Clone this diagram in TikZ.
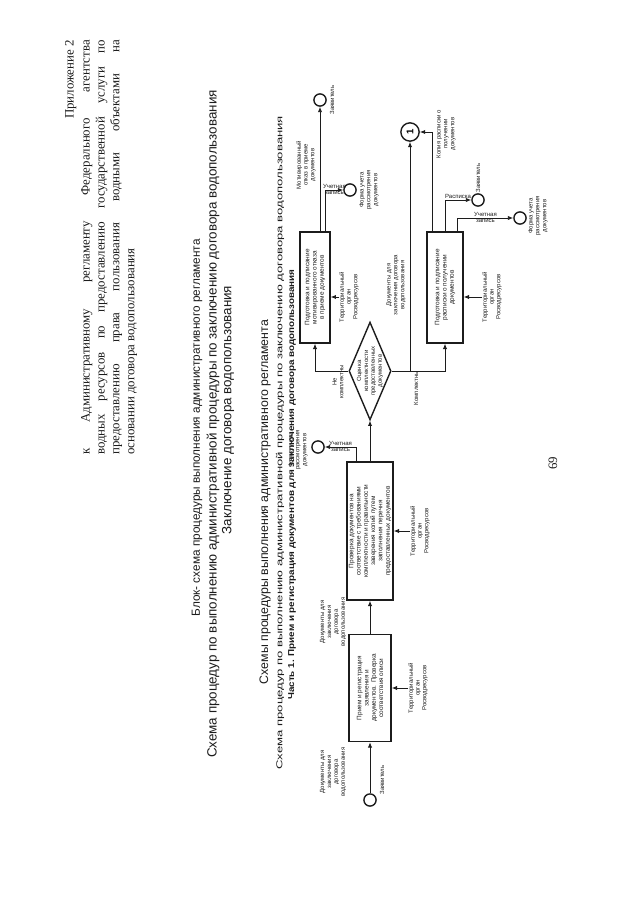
\documentclass[tikz,border=0pt]{standalone}
\usepackage{fontspec}
\setmainfont{Liberation Serif}
\newfontfamily\schemefont{Liberation Sans}
\usetikzlibrary{arrows.meta, positioning, shapes.geometric, calc}
\definecolor{ink}{HTML}{1C1C1C}

\begin{document}
\begin{tikzpicture}[x=0.0328cm, y=-0.0328cm,
  vtext/.style={rotate=90, inner sep=0pt, align=center, text=ink},
  heading/.style={vtext, font=\schemefont\fontsize{12.5}{15}\selectfont},
  subhead/.style={vtext, font=\schemefont\fontsize{8}{9}\selectfont},
  procbox/.style={draw=ink, line width=1.3pt, rotate=90, align=center, inner sep=1pt,
    text=ink, font=\schemefont\fontsize{6}{6.8}\selectfont},
  tag/.style={vtext, font=\schemefont\fontsize{5.6}{6.4}\selectfont},
  flattag/.style={inner sep=0pt, text=ink, font=\schemefont\fontsize{5.6}{6.4}\selectfont},
  endcirc/.style={draw=ink, line width=1.3pt, circle, minimum size=0.4cm, inner sep=0pt},
  flow/.style={draw=ink, line width=0.8pt, -{Latex[length=5pt, width=4pt]}},
]
\fill[white] (0,0) rectangle (640,905);
\useasboundingbox (0,0) rectangle (640,905);

% шапка приложения
\node[vtext, anchor=north east, font=\fontsize{12}{14}\selectfont] (appx) at (65,40) {Приложение 2};
\node[vtext, anchor=north west, text width=13.6cm, align=justify, font=\fontsize{12}{13.9}\selectfont] (regl) at (81,455)
  {к Административному регламенту Федерального агентства\linebreak
   водных ресурсов по предоставлению государственной услуги по\linebreak
   предоставлению права пользования водными объектами на\linebreak
   основании договора водопользования};

% заголовки
\node[heading, font=\schemefont\fontsize{11}{13}\selectfont] (blok) at (197,428) {Блок- схема процедуры выполнения административного регламента};
\node[heading] (sxema) at (213,424) {Схема процедур по выполнению административной процедуры по заключению договора водопользования};
\node[heading] (zakl) at (228,410) {Заключение договора водопользования};
\node[heading, font=\schemefont\fontsize{11.5}{13}\selectfont] (sxemy) at (265,502) {Схемы процедуры выполнения административного регламента};
\node[subhead, anchor=west] (sxemaSmall) at (280,770)
  {\scalebox{1.53}[1]{Схема процедур по выполнению административной процедуры по заключению договора водопользования}};
\node[subhead, anchor=west, font=\schemefont\bfseries\fontsize{8}{9}\selectfont] (chast) at (292,700)
  {\scalebox{1.15}[1]{Часть 1. Прием и регистрация документов для заключения договора водопользования}};

% блоки
\node[procbox, minimum width=3.51cm, minimum height=1.38cm] (priem) at (370,688)
  {Прием и регистрация\\ заявления и\\ документов. Проверка\\ соответствия описи};
\node[procbox, minimum width=4.53cm, minimum height=1.51cm] (proverka) at (370,531)
  {Проверка документов на\\ соответствие с требованиями\\ комплектности и правильности\\ заверения копий путем\\ заполнения перечня\\ предоставленных документов};
\node[diamond, draw=ink, line width=1.3pt, rotate=90, minimum width=3.21cm, minimum height=1.38cm, inner sep=0pt] (ocenka) at (370,371) {};
\node[tag] (ocenkaTxt) at (ocenka) {Оценка\\ комплектности\\ предоставленных\\ документов};
\node[procbox, minimum width=3.64cm, minimum height=0.98cm] (otkaz) at (315,287.5)
  {Подготовка и подписание\\ мотивированного отказа\\ в приеме документов};
\node[procbox, minimum width=3.64cm, minimum height=1.18cm] (raspiska) at (445,287.5)
  {Подготовка и подписание\\ расписки о получении\\ документов};

% концевые кружки
\node[endcirc] (zayavIn) at (370,800) {};
\node[endcirc] (formB) at (318,447) {};
\node[endcirc] (zayavOtk) at (320,100) {};
\node[endcirc] (formC) at (350,190) {};
\node[endcirc] (zayavRasp) at (478,200) {};
\node[endcirc] (formD) at (520,218) {};
\node[endcirc, minimum size=0.6cm, rotate=90, font=\schemefont\bfseries\fontsize{9}{10}\selectfont] (link1) at (410,132) {1};

% подписи
\node[tag] (inDocs) at (333,772) {Документы для\\ заключения\\ договора\\ водопользования};
\node[tag] (zayavInLbl) at (382,780) {Заявитель};
\node[tag] (midDocs) at (333,622) {Документы для\\ заключения\\ договора\\ водопользования};
\node[tag] (terr1) at (418,688) {Территориальный\\ орган\\ Росводресурсов};
\node[tag] (terr2) at (420,531) {Территориальный\\ орган\\ Росводресурсов};
\node[tag] (terr3) at (349,297) {Территориальный\\ орган\\ Росводресурсов};
\node[tag] (terr4) at (492,297) {Территориальный\\ орган\\ Росводресурсов};
\node[tag] (formBLbl) at (298,450) {Форма учета\\ рассмотрения\\ документов};
\node[tag] (formCLbl) at (369,190) {Форма учета\\ рассмотрения\\ документов};
\node[tag] (formDLbl) at (538,216) {Форма учета\\ рассмотрения\\ документов};
\node[tag] (neKompl) at (338,382) {Не\\ комплектны};
\node[tag] (kompl) at (416,388) {Комплектны};
\node[tag] (link1Docs) at (396,285) {Документы для\\ заключения договора\\ водопользования};
\node[tag] (kopiya) at (446,134) {Копия расписки о\\ получении\\ документов};
\node[tag] (otkazLbl) at (306,165) {Мотивированный\\ отказ в приеме\\ документов};
\node[tag] (zayavOtkLbl) at (332,100) {Заявитель};
\node[tag] (zayavRaspLbl) at (478,178) {Заявитель};

% связи
\draw[flow] (zayavIn) -- (priem.west);
\draw[flow] (priem.east) -- (proverka.west);
\draw[flow] (proverka.east) -- (ocenka.west);
\draw[flow] (ocenka.north) -| (otkaz.west);
\draw[flow] (ocenka.south) -| (raspiska.west);
\draw[flow] (ocenka.south -| link1) -- (link1);
\draw[flow] (proverka.north east) ++(10,0) |- (formB)
  node[flattag, pos=0.75, above=1pt] (uchetB) {Учетная}
  node[flattag, pos=0.75, below=1pt] (zapisB) {запись};
\draw[flow] (zayavOtk |- otkaz.east) -- (zayavOtk);
\draw[flow] (otkaz.south east) ++(-5,0) |- (formC)
  node[flattag, pos=0.75, above=1pt] (uchetC) {Учетная}
  node[flattag, pos=0.75, below=1pt] (zapisC) {запись};
\draw[flow] (raspiska.north east) ++(6,0) |- (link1);
\draw[flow] (raspiska.east) |- (zayavRasp)
  node[flattag, pos=0.75, above=1pt] (raspLbl) {Расписка};
\draw[flow] (raspiska.south east) ++(-6,0) |- (formD)
  node[flattag, pos=0.75, above=1pt] (uchetD) {Учетная}
  node[flattag, pos=0.75, below=1pt] (zapisD) {запись};
\draw[flow] (terr1.north) -- (terr1.north -| priem.south);
\draw[flow] (terr2.north) -- (terr2.north -| proverka.south);
\draw[flow] (terr3.north) -- (terr3.north -| otkaz.south);
\draw[flow] (terr4.north) -- (terr4.north -| raspiska.south);

\node[vtext, font=\fontsize{12}{14}\selectfont] (pagenum) at (553,463) {69};
\end{tikzpicture}
\end{document}
